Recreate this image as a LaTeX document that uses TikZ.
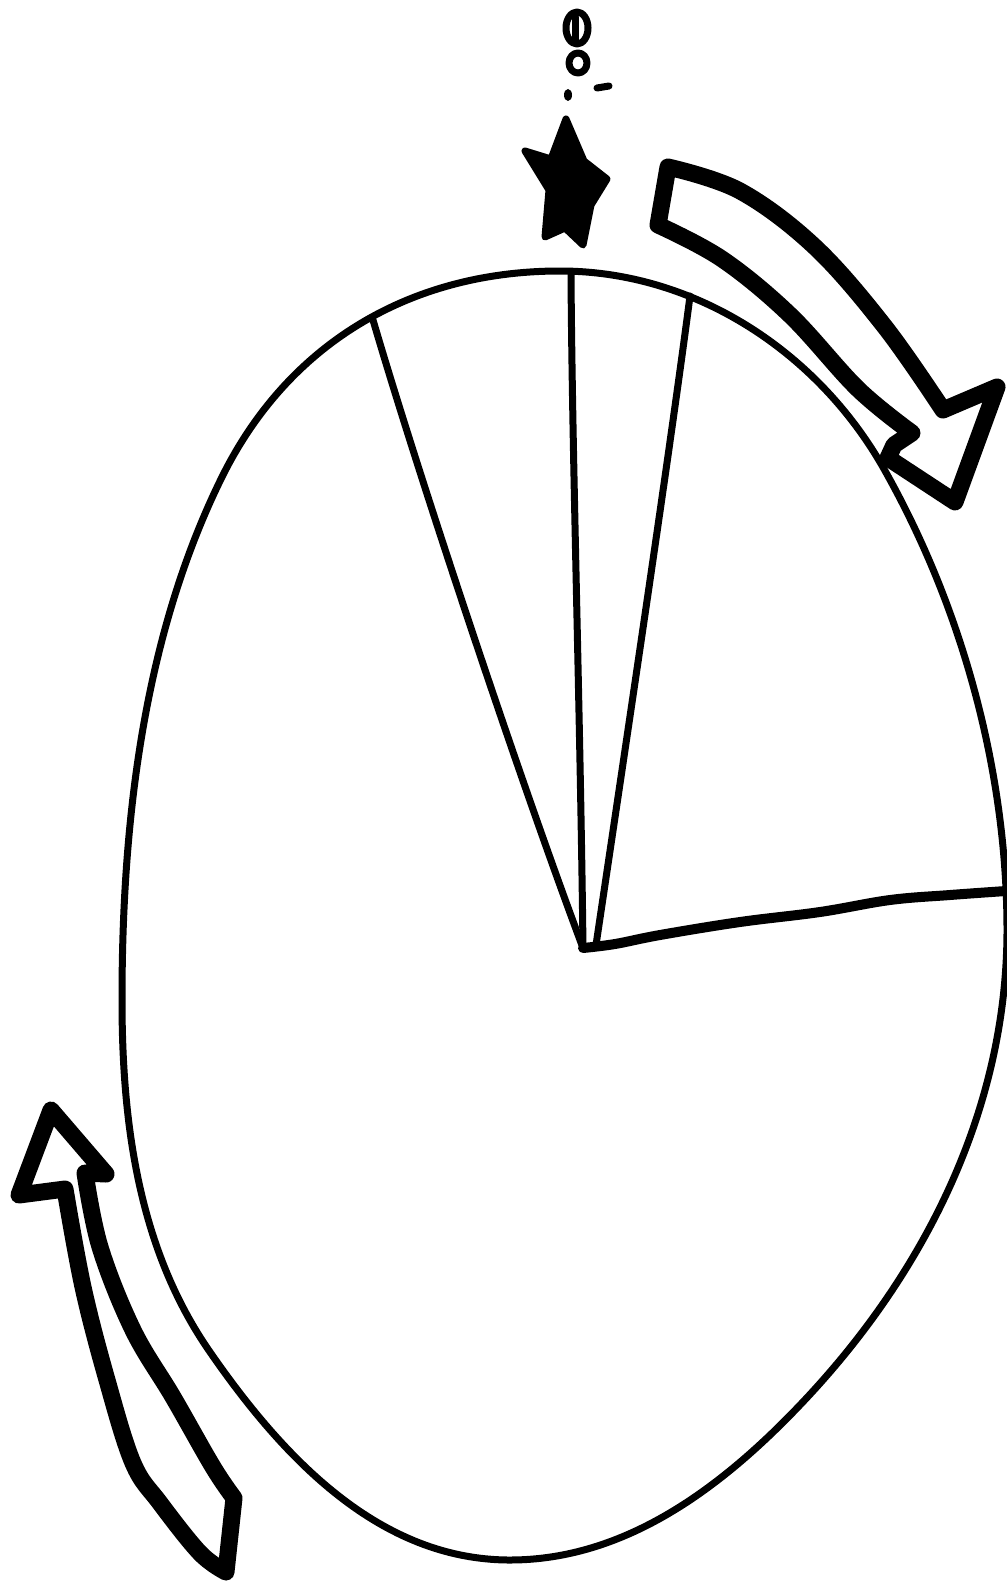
\documentclass[tikz,border=0pt]{standalone}
\begin{document}
\begin{tikzpicture}[x=1pt,y=-1pt,line cap=round,line join=round,
  pieline/.style={line width=7pt},
  cutline/.style={line width=10pt},
  fatarrow/.style={line width=17pt,fill=white},
  scrib/.style={line width=7pt}]
\useasboundingbox (0,0) rectangle (1006,1581);
\fill[white] (0,0) rectangle (1006,1581);
% key points
\coordinate (c) at (583,948);
\coordinate (aL) at (373,320);
\coordinate (aT) at (571,272);
\coordinate (aR) at (690,296);
\coordinate (aE) at (1006,891);
% oval
\draw[pieline] (560,271) .. controls (695,271) and (818,352) .. (884,469)
  .. controls (962,607) and (1007,771) .. (1007,930)
  .. controls (1007,1110) and (924,1275) .. (800,1405)
  .. controls (721,1488) and (625,1560) .. (510,1560)
  .. controls (380,1560) and (284,1459) .. (210,1352)
  .. controls (139,1250) and (122,1125) .. (122,1000)
  .. controls (122,823) and (143,638) .. (221,479)
  .. controls (287,344) and (410,271) .. (560,271) -- cycle;
% radial lines
\draw[pieline] (c) .. controls (520,780) and (420,480) .. (aL);
\draw[pieline] (c) .. controls (580,700) and (572,450) .. (aT);
\draw[pieline] (596,945) .. controls (625,750) and (670,450) .. (aR);
\draw[cutline] (c) -- plot[smooth,tension=0.6] coordinates {(583,948) (615,944) (660,935) (740,922) (820,912) (890,900) (950,895) (1006,891)};
% star
\filldraw[line width=7pt] (566,119) -- (584,161) -- (607,179) -- (591,205) -- (583,245)
  -- (565,228) -- (545,237) -- (549,190) -- (525,151) -- (551,159) -- cycle;
% scribble above the star
\draw[scrib] (577,28) ellipse [x radius=11,y radius=16];
\draw[scrib] (575,17) -- (575,40);
\draw[scrib] (578,63) ellipse [x radius=9,y radius=10];
\fill (568,95) ellipse [x radius=4,y radius=6];
\draw[scrib] (597,88) -- (609,86);
% top-right arrow
\draw[fatarrow] (668,167) -- plot[smooth,tension=0.6] coordinates {(668,167) (740,191) (815,247) (885,327) (943,410)}
  -- (997,387) -- (955,502) -- (888,458) -- (894,445) -- (912,433)
  -- plot[smooth,tension=0.6] coordinates {(912,433) (858,389) (790,315) (722,259) (658,225)} -- cycle;
% bottom-left arrow
\draw[fatarrow] (51,1110) -- (106,1174) -- (85,1173)
  -- plot[smooth,tension=0.6] coordinates {(85,1173) (100,1247) (133,1330) (173,1397) (213,1467) (234,1498)}
  -- (226,1572)
  -- plot[smooth,tension=0.6] coordinates {(226,1572) (200,1553) (160,1503) (133,1463) (107,1380) (83,1287) (65,1189)}
  -- (19,1195) -- cycle;
\end{tikzpicture}
\end{document}
